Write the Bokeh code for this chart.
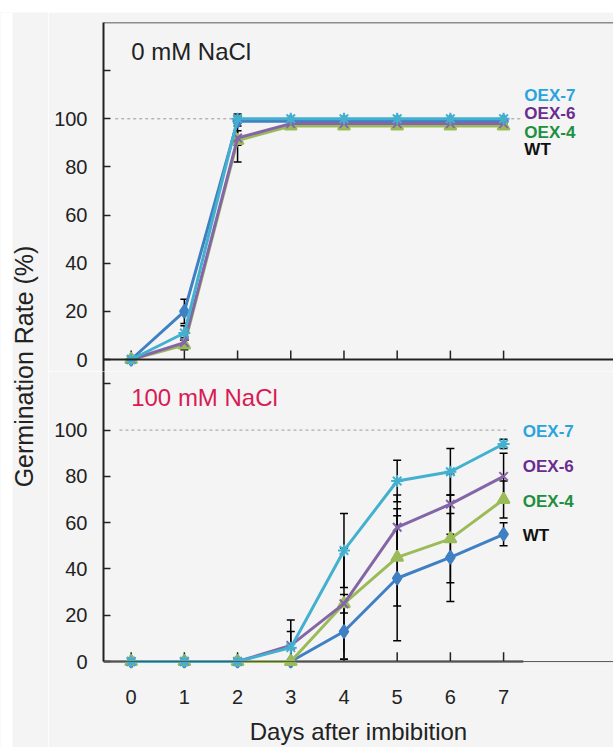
import numpy as np
from bokeh.plotting import figure
from bokeh.layouts import row, column
from bokeh.models import Range1d, FixedTicker, Span, Whisker, ColumnDataSource, TeeHead
from bokeh.core.properties import value
from bokeh.embed import file_html
from bokeh.resources import INLINE

# ---------------- data ----------------
days = [0, 1, 2, 3, 4, 5, 6, 7]
series = ["WT", "OEX-4", "OEX-6", "OEX-7"]

# 0 mM NaCl
wt_0 = [0, 20, 99, 99, 99, 99, 99, 99]
oex4_0 = [0, 6, 91, 97, 97, 97, 97, 97]
oex6_0 = [0, 7, 92, 98, 98, 98, 98, 98]
oex7_0 = [0, 11, 100, 100, 100, 100, 100, 100]
wt_0_err = [0, 5, 2, 0, 0, 0, 0, 0]
oex4_0_err = [0, 2, 9, 1, 1, 1, 1, 1]
oex6_0_err = [0, 2, 3, 1, 1, 1, 1, 1]
oex7_0_err = [0, 3, 2, 0, 0, 0, 0, 0]

# 100 mM NaCl
wt_100 = [0, 0, 0, 0, 13, 36, 45, 55]
oex4_100 = [0, 0, 0, 0, 25, 45, 53, 70]
oex6_100 = [0, 0, 0, 7, 25, 58, 68, 80]
oex7_100 = [0, 0, 0, 6, 48, 78, 82, 94]
wt_100_err = [0, 0, 0, 0, 12, 27, 19, 5]
oex4_100_err = [0, 0, 0, 0, 4, 21, 19, 8]
oex6_100_err = [0, 0, 0, 11, 24, 14, 13, 10]
oex7_100_err = [0, 0, 0, 7, 16, 9, 10, 2]

y_ticks = [0, 20, 40, 60, 80, 100, 120]
panel_titles = ["0 mM NaCl", "100 mM NaCl"]
x_label = "Days after imbibition"
y_label = "Germination Rate (%)"

# ---------------- style ----------------
FONT = "Liberation Sans"
BG = "#f4f4f4"
AX = "#222222"
line_colors = {"WT": "#3f7fc4", "OEX-4": "#9bbb59", "OEX-6": "#8466a8", "OEX-7": "#43b0cf"}
label_colors = {"WT": "#111111", "OEX-4": "#1e8f3f", "OEX-6": "#6a2c8f", "OEX-7": "#2aa4dc"}
markers = {"WT": "diamond", "OEX-4": "triangle", "OEX-6": "x", "OEX-7": "asterisk"}
msize = {"WT": 13, "OEX-4": 12, "OEX-6": 12, "OEX-7": 12}

x_range = Range1d(-0.52, 9.066)


def style_yaxis(p):
    p.yaxis.ticker = FixedTicker(ticks=y_ticks)
    p.yaxis.major_label_overrides = {120: ""}
    p.yaxis.major_tick_in = 7
    p.yaxis.major_tick_out = 0
    p.yaxis.minor_tick_line_color = None
    p.yaxis.axis_line_width = 2
    p.yaxis.axis_line_color = AX
    p.yaxis.major_tick_line_width = 1.5
    p.yaxis.major_tick_line_color = AX
    p.yaxis.major_label_standoff = 16
    p.yaxis.major_label_text_font = FONT
    p.yaxis.major_label_text_font_size = "20px"
    p.yaxis.major_label_text_color = AX
    p.grid.visible = False


def draw_panel(p, vals, errs, label_x, label_y, title, title_y, title_color, ref_x0, ref_x1, tick_len):
    # reference dashed line at 100 %
    p.segment(x0=[ref_x0], y0=[100], x1=[ref_x1], y1=[100], line_color="#9a9a9a",
              line_width=1, line_dash="3 3")
    # x ticks pointing up from the zero line
    p.segment(x0=days, y0=[0] * len(days), x1=days, y1=[tick_len] * len(days),
              line_color=AX, line_width=1.5)
    for name in series:
        c = line_colors[name]
        p.line(days, vals[name], line_color=c, line_width=3)
        p.scatter(days, vals[name], marker=markers[name], size=msize[name],
                  fill_color=c, line_color=c, line_width=2)
    for name in series:
        b, lo, hi = [], [], []
        for d, v, e in zip(days, vals[name], errs[name]):
            if e > 0:
                b.append(d)
                lo.append(max(0, v - e))
                hi.append(v + e)
        src = ColumnDataSource(dict(base=b, lower=lo, upper=hi))
        w = Whisker(source=src, base="base", lower="lower", upper="upper",
                    line_color="black", line_width=1.5,
                    upper_head=TeeHead(size=8, line_color="black", line_width=1.5),
                    lower_head=TeeHead(size=8, line_color="black", line_width=1.5))
        p.add_layout(w)
    p.text(x=[label_x] * len(series), y=label_y, text=series,
           text_color=[label_colors[s] for s in series],
           text_font=value(FONT), text_font_size="17px", text_font_style="bold",
           text_align="left", text_baseline="middle")
    p.text(x=[days[0]], y=[title_y], text=[title], text_color=title_color,
           text_font=value(FONT), text_font_size="24px",
           text_align="left", text_baseline="middle")


# ---------------- upper panel ----------------
p1 = figure(width=565, height=359, x_range=x_range, y_range=Range1d(-4.985, 140),
            output_backend="svg", toolbar_location=None, x_axis_location=None,
            min_border_left=55, min_border_right=0, min_border_top=10, min_border_bottom=0,
            background_fill_color=BG, border_fill_color=BG, outline_line_color=None)
style_yaxis(p1)
p1.add_layout(Span(location=140, dimension="width", line_color=AX, line_width=1.5))
p1.add_layout(Span(location=0, dimension="width", line_color=AX, line_width=2))
draw_panel(p1,
           {"WT": wt_0, "OEX-4": oex4_0, "OEX-6": oex6_0, "OEX-7": oex7_0},
           {"WT": wt_0_err, "OEX-4": oex4_0_err, "OEX-6": oex6_0_err, "OEX-7": oex7_0_err},
           7.39, [87.2, 94.3, 102.0, 109.5], panel_titles[0], 128, "#222222",
           -0.3, 7.32, 3.7)

# ---------------- lower panel ----------------
y2_start, y2_end = -3.0, 125.32
p2 = figure(width=565, height=376, x_range=x_range, y_range=Range1d(y2_start, y2_end),
            output_backend="svg", toolbar_location=None,
            min_border_left=55, min_border_right=0, min_border_top=0, min_border_bottom=77,
            background_fill_color=BG, border_fill_color=BG, outline_line_color=None)
style_yaxis(p2)
p2.yaxis.bounds = (0, y2_end)
p2.xaxis.ticker = FixedTicker(ticks=days)
p2.xaxis.axis_line_color = None
p2.xaxis.major_tick_line_color = None
p2.xaxis.minor_tick_line_color = None
p2.xaxis.major_label_standoff = 15
p2.xaxis.major_label_text_font = FONT
p2.xaxis.major_label_text_font_size = "20px"
p2.xaxis.major_label_text_color = AX
p2.xaxis.axis_label = x_label
p2.xaxis.axis_label_standoff = 11
p2.xaxis.axis_label_text_font = FONT
p2.xaxis.axis_label_text_font_size = "24px"
p2.xaxis.axis_label_text_font_style = "normal"
p2.xaxis.axis_label_text_color = AX
p2.add_layout(Span(location=0, dimension="width", line_color="#555555", line_width=1))
p2.segment(x0=[x_range.start], y0=[0], x1=[days[-1] + 0.37], y1=[0], line_color=AX, line_width=2)
draw_panel(p2,
           {"WT": wt_100, "OEX-4": oex4_100, "OEX-6": oex6_100, "OEX-7": oex7_100},
           {"WT": wt_100_err, "OEX-4": oex4_100_err, "OEX-6": oex6_100_err, "OEX-7": oex7_100_err},
           7.36, [54.3, 69.3, 84.3, 99.6], panel_titles[1], 114, "#d81b55",
           -0.22, 7.05, 4.0)

# ---------------- y label strip (with white page margin on the left) ----------------
p0 = figure(width=48, height=735, x_range=Range1d(0, 48), y_range=Range1d(0, 735),
            output_backend="svg", toolbar_location=None,
            x_axis_location=None, y_axis_location=None,
            min_border_left=0, min_border_right=0, min_border_top=0, min_border_bottom=0,
            background_fill_color=BG, border_fill_color=BG, outline_line_color=None)
p0.grid.visible = False
p0.quad(left=[0], right=[12], bottom=[0], top=[735], fill_color="white", line_color=None)
p0.text(x=[23], y=[381], text=[y_label], angle=np.pi / 2,
        text_align="center", text_baseline="middle",
        text_font=value(FONT), text_font_size="25px", text_color=AX)

layout = row(p0, column(p1, p2), margin=(12, 0, 0, 0))
open("out.html", "w").write(file_html(layout, INLINE))
